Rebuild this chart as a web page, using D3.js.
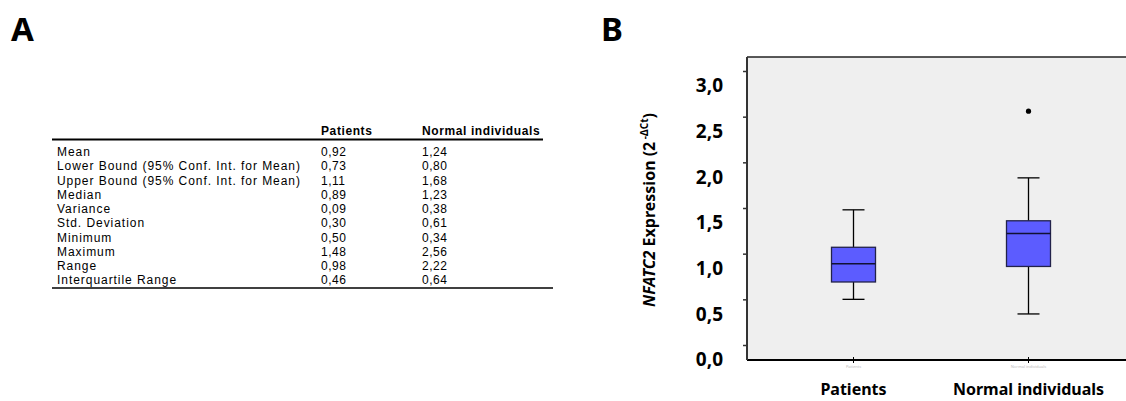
<!DOCTYPE html>
<html><head><meta charset="utf-8">
<script src="https://cdn.jsdelivr.net/npm/d3@7"></script>
<style>body{margin:0;background:#fff}svg{display:block}</style>
</head><body>
<svg id="c" width="1126" height="401"></svg>
<script>
// ---- Data ----
const statLabels = ["Mean","Lower Bound (95% Conf. Int. for Mean)","Upper Bound (95% Conf. Int. for Mean)","Median","Variance","Std. Deviation","Minimum","Maximum","Range","Interquartile Range"];
const tableColumns = ["Patients","Normal individuals"];
const patientsStats = ["0,92","0,73","1,11","0,89","0,09","0,30","0,50","1,48","0,98","0,46"];
const normalStats = ["1,24","0,80","1,68","1,23","0,38","0,61","0,34","2,56","2,22","0,64"];

const categories = ["Patients","Normal individuals"];
const whiskerLow = [0.50, 0.34];
const q1 = [0.69, 0.86];
const median = [0.89, 1.22];
const q3 = [1.07, 1.36];
const whiskerHigh = [1.48, 1.83];
const outliers = [[], [2.56]];
const yTicks = [0, 0.5, 1.0, 1.5, 2.0, 2.5, 3.0];

const svg = d3.select("#c");
const F = "'Noto Sans', 'DejaVu Sans', sans-serif";
const FT = "'Liberation Sans', Arial, sans-serif";

// ---- Panel labels ----
svg.append("text").attr("x", 11).attr("y", 41).attr("font-family", F).attr("font-weight", "bold").attr("font-size", 33).text("A");
svg.append("text").attr("x", 601).attr("y", 41).attr("font-family", F).attr("font-weight", "bold").attr("font-size", 33).text("B");

// ---- Table (A) ----
const rowY = d3.scalePoint().domain(statLabels).range([152, 280]);
const colX = d3.scaleOrdinal().domain(["label", ...tableColumns]).range([57, 321, 422]);
const tg = svg.append("g").attr("font-family", FT).attr("font-size", 12).attr("fill", "#000");
tableColumns.forEach(c => {
  tg.append("text").attr("x", colX(c)).attr("y", 131).attr("dy", "0.35em").attr("font-weight", "bold").attr("letter-spacing", 0.6).text(c);
});
tg.append("line").attr("x1", 52).attr("x2", 543).attr("y1", 139.5).attr("y2", 139.5).attr("stroke", "#000").attr("stroke-width", 2);
statLabels.forEach((l, i) => {
  const y = rowY(l);
  tg.append("text").attr("x", colX("label")).attr("y", y).attr("dy", "0.35em").attr("letter-spacing", 0.95).text(l);
  tg.append("text").attr("x", colX("Patients")).attr("y", y).attr("dy", "0.35em").attr("letter-spacing", 0.5).text(patientsStats[i]);
  tg.append("text").attr("x", colX("Normal individuals")).attr("y", y).attr("dy", "0.35em").attr("letter-spacing", 0.5).text(normalStats[i]);
});
tg.append("line").attr("x1", 52).attr("x2", 553).attr("y1", 288).attr("y2", 288).attr("stroke", "#000").attr("stroke-width", 1.5);

// ---- Box plot (B) ----
const plotL = 747, plotR = 1126, plotT = 57, plotB = 360;
const y = d3.scaleLinear().domain([0, 3]).range([345, 71]);
const x = d3.scaleBand().domain(categories).range([766, 1116]);

svg.append("rect").attr("x", plotL).attr("y", plotT).attr("width", plotR - plotL).attr("height", plotB - plotT).attr("fill", "#efefef");
svg.append("line").attr("x1", plotL).attr("x2", plotR).attr("y1", plotT).attr("y2", plotT).attr("stroke", "#222").attr("stroke-width", 1.5);
svg.append("line").attr("x1", plotL).attr("x2", plotR).attr("y1", plotB).attr("y2", plotB).attr("stroke", "#000").attr("stroke-width", 2);

// y axis
const yAxis = svg.append("g").attr("transform", `translate(${plotL},0)`)
  .call(d3.axisLeft(y).tickValues(yTicks).tickSize(4).tickFormat(d => d3.format(".1f")(d).replace(".", ",")));
yAxis.select(".domain").remove();
yAxis.append("line").attr("x1", 0).attr("x2", 0).attr("y1", plotT).attr("y2", plotB).attr("stroke", "#333").attr("stroke-width", 2);
yAxis.selectAll(".tick line").attr("stroke", "#333").attr("stroke-width", 1.5);
yAxis.selectAll(".tick text").attr("x", -24).attr("dy", "1.1em").attr("font-family", F).attr("font-weight", "bold").attr("font-size", 19).attr("fill", "#000");

// x axis
const xAxis = svg.append("g").attr("transform", `translate(0,${plotB})`)
  .call(d3.axisBottom(x).tickSize(3).tickFormat(d => d));
xAxis.select(".domain").remove();
xAxis.selectAll(".tick line").attr("y1", -3).attr("y2", 3).attr("stroke", "#000");
xAxis.selectAll(".tick text").attr("y", 5).attr("font-family", F).attr("font-size", 4).attr("fill", "#bbb");
categories.forEach(c => {
  svg.append("text").attr("x", x(c) + x.bandwidth() / 2).attr("y", 395).attr("text-anchor", "middle")
    .attr("font-family", F).attr("font-weight", "bold").attr("font-size", 16).text(c);
});

// y label
const yl = svg.append("text").attr("transform", "translate(655,210) rotate(-90)").attr("text-anchor", "middle")
  .attr("font-family", F).attr("font-weight", "bold").attr("font-size", 16).attr("fill", "#000");
yl.append("tspan").attr("font-style", "italic").text("NFATC2");
yl.append("tspan").text(" Expression (2");
yl.append("tspan").attr("font-size", 10).attr("dy", "-0.7em").text(" -ΔCt");
yl.append("tspan").attr("dy", "0.45em").text(")");

// boxes
const bw = 44, cw = 22;
categories.forEach((c, i) => {
  const cx = x(c) + x.bandwidth() / 2;
  const g = svg.append("g");
  g.append("line").attr("x1", cx).attr("x2", cx).attr("y1", y(whiskerHigh[i])).attr("y2", y(q3[i])).attr("stroke", "#000").attr("stroke-width", 1.3);
  g.append("line").attr("x1", cx).attr("x2", cx).attr("y1", y(q1[i])).attr("y2", y(whiskerLow[i])).attr("stroke", "#000").attr("stroke-width", 1.3);
  g.append("line").attr("x1", cx - cw / 2).attr("x2", cx + cw / 2).attr("y1", y(whiskerHigh[i])).attr("y2", y(whiskerHigh[i])).attr("stroke", "#000").attr("stroke-width", 1.3);
  g.append("line").attr("x1", cx - cw / 2).attr("x2", cx + cw / 2).attr("y1", y(whiskerLow[i])).attr("y2", y(whiskerLow[i])).attr("stroke", "#000").attr("stroke-width", 1.3);
  g.append("rect").attr("x", cx - bw / 2).attr("y", y(q3[i])).attr("width", bw).attr("height", y(q1[i]) - y(q3[i]))
    .attr("fill", "#5c5cff").attr("stroke", "#22224a").attr("stroke-width", 1.3);
  g.append("line").attr("x1", cx - bw / 2).attr("x2", cx + bw / 2).attr("y1", y(median[i])).attr("y2", y(median[i])).attr("stroke", "#111133").attr("stroke-width", 1.6);
  outliers[i].forEach(o => {
    g.append("circle").attr("cx", cx).attr("cy", y(o)).attr("r", 2.6).attr("fill", "#000");
  });
});
</script>
</body></html>
